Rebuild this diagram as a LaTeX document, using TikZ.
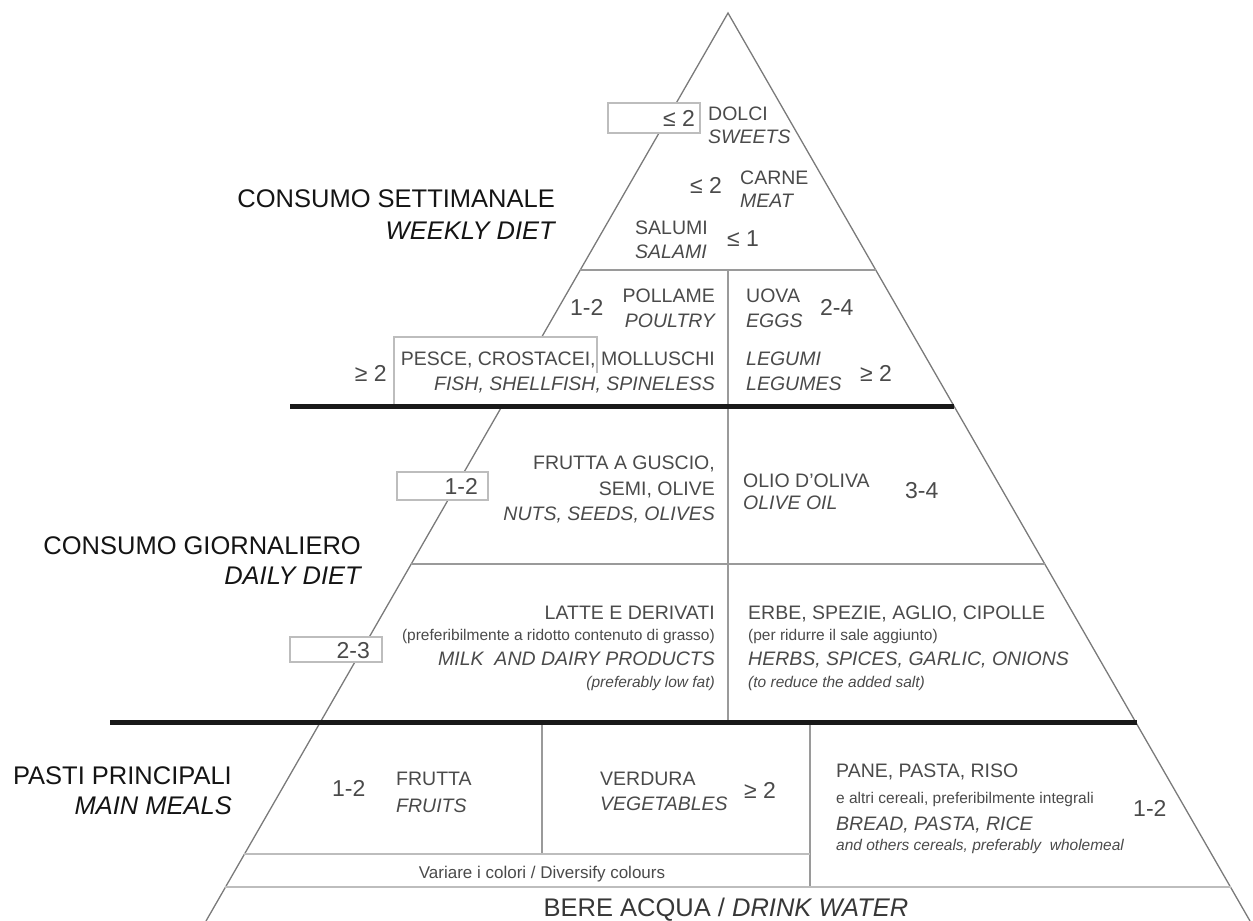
\documentclass[tikz,border=0pt]{standalone}
\usepackage{fontspec}
\setmainfont{Liberation Sans}
\definecolor{txtgray}{HTML}{4A4A4A}
\definecolor{hdblack}{HTML}{141414}
\definecolor{edgegray}{HTML}{7A7A7A}
\definecolor{innergray}{HTML}{9A9A9A}
\definecolor{lightgray}{HTML}{BDBDBD}
\tikzset{
  hd/.style={inner sep=0pt, text=hdblack, font=\fontsize{25.5}{30}\selectfont},
  hdit/.style={hd, font=\fontsize{25.5}{30}\selectfont\itshape},
  fd/.style={inner sep=0pt, text=txtgray, font=\fontsize{19.5}{23}\selectfont},
  fdit/.style={fd, font=\fontsize{19.5}{23}\selectfont\itshape},
  sm/.style={inner sep=0pt, text=txtgray, font=\fontsize{15.5}{18}\selectfont},
  smit/.style={sm, font=\fontsize{15.5}{18}\selectfont\itshape},
  nm/.style={inner sep=0pt, text=txtgray, font=\fontsize{23}{27}\selectfont},
  edgeline/.style={draw=edgegray, line width=1.3pt},
  innerline/.style={draw=innergray, line width=1.4pt},
  softline/.style={draw=lightgray, line width=2pt},
  thickline/.style={draw=black!90, line width=5pt},
  bx/.style={draw=lightgray, line width=1.2pt, fill=white}
}
\begin{document}
\begin{tikzpicture}[x=1pt, y=-1pt]
\useasboundingbox (0,0) rectangle (1253,921);
% triangle
\coordinate (apex) at (728,13);
\coordinate (bl) at (206,921);
\coordinate (br) at (1250,921);
\draw[edgeline] (bl) -- (apex) -- (br);
% inner lines
\draw[innerline] (580.2,270) -- (875.8,270);
\draw[innerline] (728,270) -- (728,406);
\draw[innerline] (728,406) -- (728,722);
\draw[innerline] (411.2,564) -- (1044.8,564);
\draw[innerline] (542,722) -- (542,854);
\draw[innerline] (810,722) -- (810,887);
\draw[softline] (244.4,854) -- (810,854);
\draw[softline] (225.4,887) -- (1230.6,887);
% boxes
\fill[white] (608,103) rectangle (700,133);
\draw[draw=lightgray, line width=1.2pt] (608,103) rectangle (700,133);
\fill[white] (394,337) rectangle (597,404);
\draw[draw=lightgray, line width=1.2pt] (597,373) -- (597,337) -- (394,337) -- (394,404);
\draw[bx] (397,472) rectangle (488,500);
\draw[bx] (290,637) rectangle (382,662);
% thick lines
\draw[thickline] (290,406) -- (954,406);
\draw[thickline] (110,722) -- (1137,722);
% headings
\node[hd, anchor=base east] (cs) at (555,207) {CONSUMO SETTIMANALE};
\node[hdit, anchor=base east] (wd) at (555,239) {WEEKLY DIET};
\node[hd, anchor=base east] (cg) at (361,554) {CONSUMO GIORNALIERO};
\node[hdit, anchor=base east] (dd) at (361,584) {DAILY DIET};
\node[hd, anchor=base east] (pp) at (232,784) {PASTI PRINCIPALI};
\node[hdit, anchor=base east] (mm) at (232,814) {MAIN MEALS};
\node[hd, anchor=base, text=hdblack!85] (water) at (726,916) {BERE ACQUA / \textit{DRINK WATER}};
% top
\node[nm, anchor=base east] (n1) at (695,126) {≤ 2};
\node[fd, anchor=base west] (dolci) at (708,120) {DOLCI};
\node[fdit, anchor=base west] (sweets) at (708,143) {SWEETS};
\node[nm, anchor=base west] (n2) at (690,193) {≤ 2};
\node[fd, anchor=base west] (carne) at (740,184) {CARNE};
\node[fdit, anchor=base west] (meat) at (740,207) {MEAT};
\node[fd, anchor=base west] (salumi) at (635,234) {SALUMI};
\node[fdit, anchor=base west] (salami) at (635,258) {SALAMI};
\node[nm, anchor=base west] (n3) at (727,246) {≤ 1};
% weekly lower
\node[nm, anchor=base west] (n4) at (570,315) {1-2};
\node[fd, anchor=base east] (pollame) at (715,302) {POLLAME};
\node[fdit, anchor=base east] (poultry) at (715,327) {POULTRY};
\node[fd, anchor=base west] (uova) at (746,302) {UOVA};
\node[fdit, anchor=base west] (eggs) at (746,327) {EGGS};
\node[nm, anchor=base west] (n5) at (820,315) {2-4};
\node[nm, anchor=base east] (n6) at (387,381) {≥ 2};
\node[fd, anchor=base east] (pesce) at (715,365) {PESCE, CROSTACEI, MOLLUSCHI};
\node[fdit, anchor=base east] (fish) at (715,390) {FISH, SHELLFISH, SPINELESS};
\node[fdit, anchor=base west] (legumi) at (746,365) {LEGUMI};
\node[fdit, anchor=base west] (legumes) at (746,390) {LEGUMES};
\node[nm, anchor=base west] (n7) at (860,381) {≥ 2};
% daily upper
\node[nm, anchor=base east] (n8) at (478,494) {1-2};
\node[fd, anchor=base east] (frutta1) at (715,469) {FRUTTA A GUSCIO,};
\node[fd, anchor=base east] (semi) at (715,495) {SEMI, OLIVE};
\node[fdit, anchor=base east] (nuts) at (715,520) {NUTS, SEEDS, OLIVES};
\node[fd, anchor=base west] (olio) at (743,487) {OLIO D'OLIVA};
\node[fdit, anchor=base west] (oil) at (743,509) {OLIVE OIL};
\node[nm, anchor=base west] (n9) at (905,498) {3-4};
% daily lower
\node[nm, anchor=base east] (n10) at (370,658) {2-3};
\node[fd, anchor=base east] (latte) at (715,619) {LATTE E DERIVATI};
\node[sm, anchor=base east] (pref) at (715,640) {(preferibilmente a ridotto contenuto di grasso)};
\node[fdit, anchor=base east] (milk) at (715,665) {MILK\ \ AND DAIRY PRODUCTS};
\node[smit, anchor=base east] (lowfat) at (715,687) {(preferably low fat)};
\node[fd, anchor=base west] (erbe) at (748,619) {ERBE, SPEZIE, AGLIO, CIPOLLE};
\node[sm, anchor=base west] (sale) at (748,640) {(per ridurre il sale aggiunto)};
\node[fdit, anchor=base west] (herbs) at (748,665) {HERBS, SPICES, GARLIC, ONIONS};
\node[smit, anchor=base west] (salt) at (748,687) {(to reduce the added salt)};
% main meals
\node[nm, anchor=base west] (n11) at (332,796) {1-2};
\node[fd, anchor=base west] (frutta) at (396,785) {FRUTTA};
\node[fdit, anchor=base west] (fruits) at (396,812) {FRUITS};
\node[fd, anchor=base west] (verdura) at (600,785) {VERDURA};
\node[fdit, anchor=base west] (veg) at (600,810) {VEGETABLES};
\node[nm, anchor=base west] (n12) at (744,798) {≥ 2};
\node[fd, anchor=base west] (pane) at (836,777) {PANE, PASTA, RISO};
\node[sm, anchor=base west] (altri) at (836,803) {e altri cereali, preferibilmente integrali};
\node[fdit, anchor=base west] (bread) at (836,830) {BREAD, PASTA, RICE};
\node[smit, anchor=base west] (others) at (836,850) {and others cereals, preferably\ \ wholemeal};
\node[nm, anchor=base west] (n13) at (1133,816) {1-2};
\node[inner sep=0pt, text=txtgray, font=\fontsize{17}{20}\selectfont, anchor=base] (variare) at (542,878) {Variare i colori / Diversify colours};
\end{tikzpicture}
\end{document}
